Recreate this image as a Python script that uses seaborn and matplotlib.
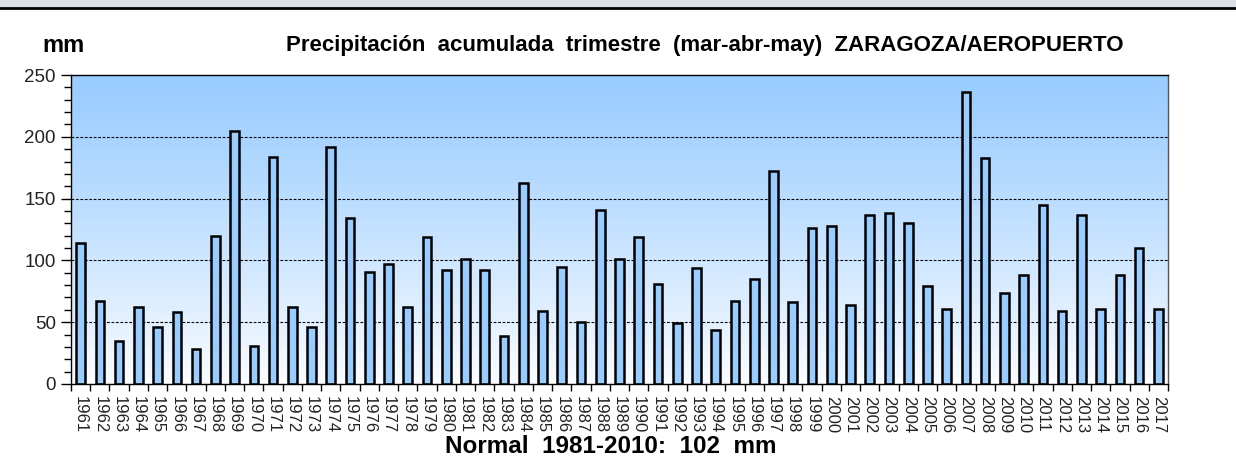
import numpy as np
import pandas as pd
import matplotlib.pyplot as plt
from matplotlib.patches import Rectangle
from matplotlib.ticker import MultipleLocator, FixedLocator
import seaborn as sns

years = [str(y) for y in range(1961, 2018)]
precip = [114, 67, 35, 62, 46, 58, 28, 120, 205, 31,
          184, 62, 46, 192, 134, 91, 97, 62, 119, 92,
          101, 92, 39, 163, 59, 95, 50, 141, 101, 119,
          81, 49, 94, 44, 67, 85, 172, 66, 126, 128,
          64, 137, 138, 130, 79, 61, 236, 183, 74, 88,
          145, 59, 137, 61, 88, 110, 61]

title = "Precipitación  acumulada  trimestre  (mar-abr-may)  ZARAGOZA/AEROPUERTO"
footer = "Normal  1981-2010:  102  mm"

sns.set_style("ticks")
plt.rcParams["font.family"] = ["Liberation Sans", "DejaVu Sans"]
plt.rcParams["text.color"] = "black"
plt.rcParams["xtick.color"] = "black"
plt.rcParams["ytick.color"] = "black"

df = pd.DataFrame({"year": years, "mm": precip})

fig = plt.figure(figsize=(12.36, 4.61), dpi=100)
ax = fig.add_axes([71 / 1236, 1 - 384 / 461, (1168 - 71) / 1236, (384 - 75) / 461])

# franja de cabecera de la web
fig.patches.append(Rectangle((0, 1 - 8 / 461), 1, 8 / 461, transform=fig.transFigure,
                             facecolor="#d9dee7", edgecolor="none", zorder=0))
fig.lines.append(plt.Line2D([0, 1], [1 - 8.5 / 461] * 2, transform=fig.transFigure,
                            color="black", lw=2))

# fondo degradado
grad = np.linspace(0, 1, 256).reshape(-1, 1) ** 1.15
top = np.array([0x99, 0xCC, 0xFF]) / 255
bot = np.array([0xFA, 0xFC, 0xFF]) / 255
img = top[None, None, :] * (1 - grad[:, :, None]) + bot[None, None, :] * grad[:, :, None]
ax.imshow(img, extent=[-0.5, len(years) - 0.5, 0, 250], aspect="auto", zorder=0)

for y in [50, 100, 150, 200]:
    ax.axhline(y, color="black", lw=0.8, ls=(0, (2.5, 1.5)), zorder=1)

sns.barplot(data=df, x="year", y="mm", color="#99CCFF", saturation=1, width=0.45,
            edgecolor="black", linewidth=1.8, ax=ax, zorder=2)

ax.set_xlim(-0.5, len(years) - 0.5)
ax.set_ylim(0, 250)
ax.set_xlabel("")
ax.set_ylabel("")
ax.set_yticks([0, 50, 100, 150, 200, 250])
ax.yaxis.set_minor_locator(MultipleLocator(10))
ax.tick_params(axis="y", which="major", length=7, width=1, labelsize=13.5, pad=4,
               labelcolor="#222222")
ax.tick_params(axis="y", which="minor", length=5, width=1)
ax.set_xticks(range(len(years)))
ax.set_xticklabels(years, rotation=270, fontsize=12, color="#222222")
ax.tick_params(axis="x", which="major", length=0, pad=9)
ax.xaxis.set_minor_locator(FixedLocator(np.arange(-0.5, len(years), 1.0)))
ax.tick_params(axis="x", which="minor", length=5, width=1)
for s in ax.spines.values():
    s.set_visible(True)
    s.set_color("black")
    s.set_linewidth(1)
ax.spines["right"].set_color("#555555")

fig.text(63 / 1236, 1 - 46 / 461, "mm", fontsize=17, fontweight="bold", ha="center", va="center")
fig.text(705 / 1236, 1 - 45 / 461, title, fontsize=16, fontweight="bold", ha="center", va="center")
fig.text(611 / 1236, 1 - 446 / 461, footer, fontsize=17.5, fontweight="bold", ha="center", va="center")

fig.savefig("out.png", dpi=100)
